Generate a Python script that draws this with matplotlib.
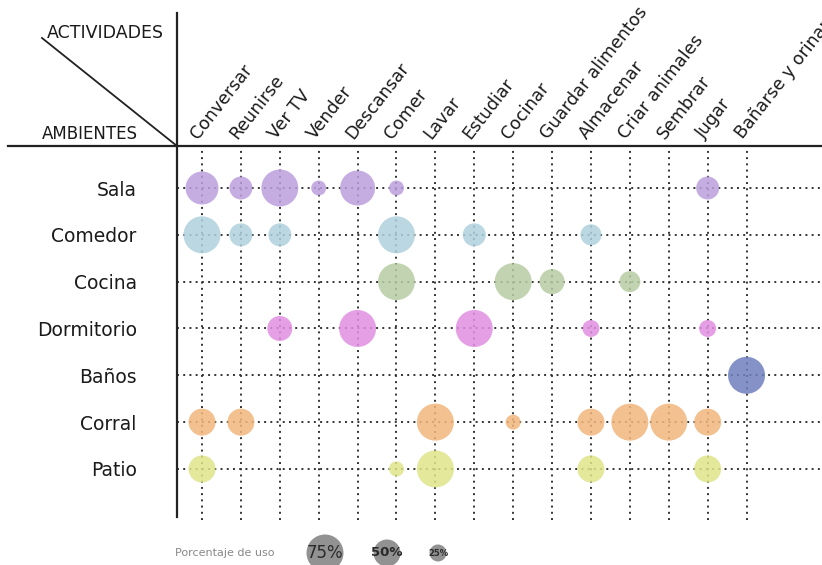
import numpy as np
import matplotlib
matplotlib.use("Agg")
import matplotlib.pyplot as plt
import matplotlib.transforms as mtransforms
from matplotlib.lines import Line2D

plt.rcParams['font.family'] = ['DejaVu Sans']

ambientes = ['Sala', 'Comedor', 'Cocina', 'Dormitorio', 'Baños', 'Corral', 'Patio']
actividades = ['Conversar', 'Reunirse', 'Ver TV', 'Vender', 'Descansar', 'Comer',
               'Lavar', 'Estudiar', 'Cocinar', 'Guardar alimentos', 'Almacenar',
               'Criar animales', 'Sembrar', 'Jugar', 'Bañarse y orinar']

# porcentaje de uso por ambiente (una fila por ambiente, una columna por actividad)
sala       = [65, 40, 75, 20, 70, 20,  0,  0,  0,  0,  0,  0,  0, 40,  0]
comedor    = [75, 40, 40,  0,  0, 75,  0, 40,  0,  0, 35,  0,  0,  0,  0]
cocina     = [ 0,  0,  0,  0,  0, 75,  0,  0, 75, 45,  0, 35,  0,  0,  0]
dormitorio = [ 0,  0, 45,  0, 75,  0,  0, 75,  0,  0, 25,  0,  0, 25,  0]
banos      = [ 0,  0,  0,  0,  0,  0,  0,  0,  0,  0,  0,  0,  0,  0, 75]
corral     = [50, 50,  0,  0,  0,  0, 75,  0, 20,  0, 50, 75, 75, 50,  0]
patio      = [50,  0,  0,  0,  0, 20, 75,  0,  0,  0, 50,  0,  0, 50,  0]

colores = ['#bb9fdc', '#aed0dd', '#b6cca2', '#e18fe1', '#6e7fbd', '#f2b57c', '#dee489']

leyenda_valores = [75, 50, 25]
leyenda_textos = ['75%', '50%', '25%']

DPI = 100


def size(p):
    d_px = 7 + 0.4 * np.asarray(p, dtype=float)
    return (d_px * 72 / DPI) ** 2


fig = plt.figure(figsize=(8.22, 5.65), dpi=DPI)
W, H = 822, 565

# main grid axes
ax = fig.add_axes([177 / W, 1 - 520 / H, 1 - 177 / W, (520 - 146) / H])
ax.set_xlim(-0.643, 15.94)
ax.set_ylim(7.09, -0.897)

filas = [sala, comedor, cocina, dormitorio, banos, corral, patio]
for j, (fila, c) in enumerate(zip(filas, colores)):
    vals = np.array(fila)
    xs = np.nonzero(vals)[0]
    ax.scatter(xs, np.full(len(xs), j), s=size(vals[xs]), color=c,
               alpha=0.85, edgecolors='none', zorder=3)

ax.set_xticks(range(len(actividades)))
ax.set_yticks(range(len(ambientes)))
ax.set_xticklabels([])
ax.set_yticklabels(ambientes, fontsize=13.5, color='#1a1a1a')
ax.tick_params(axis='both', length=0)
ax.tick_params(axis='y', pad=29)
ax.grid(True, color='#333333', linewidth=1.4, linestyle=(0, (1, 2.2)), zorder=1)
ax.set_axisbelow(True)
for sp in ['top', 'right', 'bottom', 'left']:
    ax.spines[sp].set_visible(False)

# column labels (rotated)
trans = mtransforms.blended_transform_factory(ax.transData, ax.transAxes)
trans = mtransforms.offset_copy(trans, fig=fig, x=-1, y=4, units='dots')
for i, act in enumerate(actividades):
    ax.text(i, 1, act, transform=trans, rotation=52, rotation_mode='anchor',
            ha='left', va='bottom', fontsize=12.5, color='#1a1a1a', clip_on=False)

# header lines
fig.add_artist(Line2D([177 / W, 177 / W], [1 - 13 / H, 1 - 517 / H],
                      transform=fig.transFigure, color='#222222', lw=1.6))
fig.add_artist(Line2D([8 / W, 1], [1 - 146 / H, 1 - 146 / H],
                      transform=fig.transFigure, color='#222222', lw=1.6))
fig.add_artist(Line2D([42 / W, 177 / W], [1 - 38 / H, 1 - 146 / H],
                      transform=fig.transFigure, color='#222222', lw=1.3))
fig.text(47 / W, 1 - 42 / H, 'ACTIVIDADES', fontsize=12.5, color='#1a1a1a',
         ha='left', va='bottom')
fig.text(42 / W, 1 - 143 / H, 'AMBIENTES', fontsize=12, color='#1a1a1a',
         ha='left', va='bottom')

# legend
lax = fig.add_axes([0, 0, 1, 45 / H])
lax.set_xlim(0, W)
lax.set_ylim(45, 0)
lax.axis('off')
lx = [325, 387, 438]
lax.scatter(lx, [33] * 3, s=size(leyenda_valores), color='#8c8c8c',
            edgecolors='none', alpha=0.95)
for x, t, fs in zip(lx, leyenda_textos, [12, 9.5, 6]):
    lax.text(x, 33, t, ha='center', va='center', fontsize=fs, color='#2a2a2a',
             fontweight='bold' if fs < 12 else 'normal')
lax.text(175, 33, 'Porcentaje de uso', ha='left', va='center', fontsize=8,
         color='#888888')

fig.savefig('out.png', dpi=DPI)
